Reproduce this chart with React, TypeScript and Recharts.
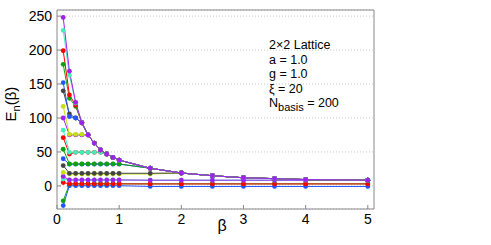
import { LineChart, Line, XAxis, YAxis, CartesianGrid, Label, Customized } from "recharts"

// beta sample points
const betas = [0.1, 0.2, 0.3, 0.4, 0.5, 0.6, 0.7, 0.8, 0.9, 1.0, 1.5, 2, 2.5, 3, 3.5, 4, 5]

// energy levels, lowest to highest
const e1 = [-29, 0.4, 0.3, 0.3, 0.3, 0.3, 0.3, 0.3, 0.3, 0.3, -0.8, -0.8, -0.8, -0.8, -0.8, -0.8, -0.8]
const e2 = [-22, 2.5, 3, 3, 3, 3, 3, 3, 3, 3, 3, 3, 3, 3, 3, 3, 3]
const e3 = [5, 3, 3, 3, 3, 3, 3, 3, 3, 3, 2.9, 2.9, 2.9, 2.9, 2.9, 2.9, 2.9]
const e4 = [10, 8.6, 8.6, 8.6, 8.6, 8.6, 8.6, 8.6, 8.6, 8.6, 8.4, 8.4, 8.4, 8.4, 8.4, 8.4, 8.4]
const e5 = [14, 8.8, 8.8, 8.8, 8.8, 8.8, 8.8, 8.8, 8.8, 8.8, 8.4, 8.4, 8.4, 8.4, 8.4, 8.4, 8.4]
const e6 = [20, 17.5, 17.5, 17.5, 17.5, 17.5, 17.5, 17.5, 17.5, 17.5, 17.5, 19, 15, 12, 10.7, 9.3, 8.4]
const e7 = [30, 18.6, 18.6, 18.6, 18.6, 18.6, 18.6, 18.6, 18.6, 18.6, 18.6, 19, 15, 12, 10.7, 9.3, 8.4]
const e8 = [40, 32, 32, 32, 32, 32, 32, 32, 32, 32, 26, 19, 15, 12, 10.7, 9.3, 8.4]
const e9 = [54, 32.4, 32.4, 32.4, 32.4, 32.4, 32.4, 32.4, 32.4, 32.4, 26, 19, 15, 12, 10.7, 9.3, 8.4]
const e10 = [71, 47, 49.5, 49.5, 49.5, 49.5, 49.5, 47, 42, 38, 26, 19, 15, 12, 10.7, 9.3, 8.4]
const e11 = [82, 49.5, 49.5, 49.5, 49.5, 49.5, 49.5, 47, 42, 38, 26, 19, 15, 12, 10.7, 9.3, 8.4]
const e12 = [100, 75, 75, 75, 75, 63, 53, 47, 42, 38, 26, 19, 15, 12, 10.7, 9.3, 8.4]
const e13 = [117, 76, 76, 76, 75, 63, 53, 47, 42, 38, 26, 19, 15, 12, 10.7, 9.3, 8.4]
const e14 = [140, 106, 100, 93, 75, 63, 53, 47, 42, 38, 26, 19, 15, 12, 10.7, 9.3, 8.4]
const e15 = [152, 102, 100, 93, 75, 63, 53, 47, 42, 38, 26, 19, 15, 12, 10.7, 9.3, 8.4]
const e16 = [179, 129, 117, 93, 75, 63, 53, 47, 42, 38, 26, 19, 15, 12, 10.7, 9.3, 8.4]
const e17 = [199, 134, 119, 93, 75, 63, 53, 47, 42, 38, 26, 19, 15, 12, 10.7, 9.3, 8.4]
const e18 = [229, 163, 122, 93, 75, 63, 53, 47, 42, 38, 26, 19, 15, 12, 10.7, 9.3, 8.4]
const e19 = [248, 169, 123, 93, 75, 63, 53, 47, 42, 38, 26, 19, 15, 12, 10.7, 9.3, 8.4]

const levels = [e1, e2, e3, e4, e5, e6, e7, e8, e9, e10, e11, e12, e13, e14, e15, e16, e17, e18, e19]

// colour cycle used by the plotting tool
const palette = ["#2255ff", "#10a010", "#ff0000", "#44eebb", "#a020f0", "#c4e010", "#444444"]

const xTicks = [0, 1, 2, 3, 4, 5]
const yTicks = [0, 50, 100, 150, 200, 250]

const data = betas.map((b, i) => {
  const row: Record<string, number> = { beta: b }
  levels.forEach((lv, n) => {
    row["E" + (n + 1)] = lv[i]
  })
  return row
})

const font = "'Liberation Sans', Arial, Helvetica, sans-serif"

const YTitle = () => (
  <text x={16} y={104} transform="rotate(-90, 16, 104)" textAnchor="middle" fontFamily={font} fontSize={15} fill="#000">
    E<tspan fontSize={11} dy={4}>n</tspan>
    <tspan dy={-4}>(β)</tspan>
  </text>
)

const XTitle = () => (
  <text x={222} y={231} textAnchor="middle" fontFamily={font} fontSize={16} fill="#000">
    β
  </text>
)

const Notes = () => (
  <g fontFamily={font} fontSize={12.5} fill="#000">
    <text x={269} y={49}>2×2 Lattice</text>
    <text x={269} y={64}>a = 1.0</text>
    <text x={269} y={78}>g = 1.0</text>
    <text x={269} y={93}>ξ = 20</text>
    <text x={269} y={107}>
      N<tspan fontSize={11} dy={4}>basis</tspan>
      <tspan dy={-4}> = 200</tspan>
    </text>
  </g>
)

const App = () => {
  const last = levels.length - 1
  return (
    <div style={{ position: "absolute", left: 0, top: 0, background: "#fff" }}>
      <LineChart width={491} height={245} data={data} margin={{ top: 8, right: 115, bottom: 0, left: 0 }}>
        <CartesianGrid vertical={false} stroke="#c8c8c8" strokeDasharray="1 2" />
        <XAxis
          dataKey="beta"
          type="number"
          domain={[0, 5.1]}
          ticks={xTicks}
          allowDataOverflow
          height={36}
          stroke="#888"
          tickSize={-4}
          tickMargin={9}
          tick={{ fill: "#000", fontSize: 14, fontFamily: font }}
        >
          <Label content={<XTitle />} />
        </XAxis>
        <XAxis
          xAxisId="top"
          dataKey="beta"
          orientation="top"
          type="number"
          domain={[0, 5.1]}
          ticks={xTicks}
          allowDataOverflow
          height={2}
          stroke="#888"
          tickSize={-4}
          tick={false}
        />
        <YAxis
          type="number"
          domain={[-34, 259]}
          ticks={yTicks}
          allowDataOverflow
          width={57}
          stroke="#888"
          tickSize={-4}
          tickMargin={9}
          tick={{ fill: "#000", fontSize: 14, fontFamily: font }}
        >
          <Label content={<YTitle />} />
        </YAxis>
        <YAxis
          yAxisId="right"
          orientation="right"
          type="number"
          domain={[-34, 259]}
          ticks={yTicks}
          allowDataOverflow
          width={2}
          stroke="#888"
          tickSize={-4}
          tick={false}
        />
        {levels.map((_, n) => (
          <Line
            key={n}
            dataKey={"E" + (n + 1)}
            xAxisId={n === last ? "top" : 0}
            yAxisId={n === last ? "right" : 0}
            stroke={palette[n % palette.length]}
            strokeWidth={1}
            dot={{ r: 2.4, fill: palette[n % palette.length], stroke: "none" }}
            isAnimationActive={false}
          />
        ))}
        <Customized component={Notes} />
      </LineChart>
    </div>
  )
}

export default App
